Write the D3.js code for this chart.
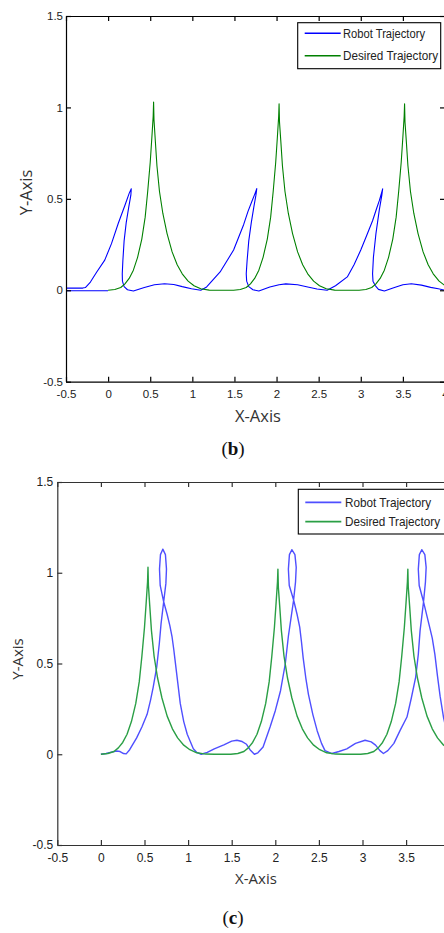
<!DOCTYPE html>
<html>
<head>
<meta charset="utf-8">
<script src="https://cdn.jsdelivr.net/npm/d3@7"></script>
<style>
  html, body { margin: 0; padding: 0; background: #fff; }
  svg { display: block; }
</style>
</head>
<body>
<svg id="chart" width="444" height="933"></svg>
<script>
// tick values shared by both panels
const xTicks = [-0.5, 0, 0.5, 1, 1.5, 2, 2.5, 3, 3.5, 4];
const yTicks = [-0.5, 0, 0.5, 1, 1.5];
const seriesNames = ['Robot Trajectory', 'Desired Trajectory'];
const panelLabels = ['b', 'c'];

// desired trajectory (same in both panels), [x, y]
const desiredPath = [
    [0.00, 0.000], [0.08, 0.004], [0.15, 0.015], [0.20, 0.035], [0.25, 0.065], [0.30, 0.11],
    [0.35, 0.18], [0.40, 0.28], [0.44, 0.40], [0.47, 0.54], [0.50, 0.70], [0.52, 0.84],
    [0.535, 0.95], [0.54, 1.03], [0.545, 0.93], [0.56, 0.82], [0.58, 0.68], [0.61, 0.54],
    [0.65, 0.42], [0.70, 0.31], [0.76, 0.21], [0.82, 0.14], [0.88, 0.09], [0.95, 0.05],
    [1.02, 0.025], [1.10, 0.008], [1.20, 0.001], [1.30, 0.000],
    [1.49, 0.000], [1.57, 0.004], [1.64, 0.015], [1.69, 0.035], [1.74, 0.065], [1.79, 0.11],
    [1.84, 0.18], [1.89, 0.28], [1.93, 0.40], [1.96, 0.54], [1.99, 0.70], [2.01, 0.84],
    [2.025, 0.95], [2.03, 1.02], [2.035, 0.92], [2.05, 0.82], [2.07, 0.68], [2.10, 0.54],
    [2.14, 0.42], [2.19, 0.31], [2.25, 0.21], [2.31, 0.14], [2.37, 0.09], [2.44, 0.05],
    [2.51, 0.025], [2.59, 0.008], [2.69, 0.001], [2.79, 0.000],
    [2.98, 0.000], [3.06, 0.004], [3.13, 0.015], [3.18, 0.035], [3.23, 0.065], [3.28, 0.11],
    [3.33, 0.18], [3.38, 0.28], [3.42, 0.40], [3.45, 0.54], [3.48, 0.70], [3.50, 0.84],
    [3.515, 0.95], [3.52, 1.02], [3.525, 0.92], [3.54, 0.82], [3.56, 0.68], [3.59, 0.54],
    [3.63, 0.42], [3.68, 0.31], [3.74, 0.21], [3.80, 0.14], [3.86, 0.09], [3.93, 0.05],
    [4.00, 0.025], [4.08, 0.008], [4.18, 0.001]
];

// robot trajectory, panel (b)
const robotPathB = [
    [0.00, -0.003], [-0.50, -0.003], [-0.50, 0.012], [-0.30, 0.012], [-0.27, 0.015],
    [-0.21, 0.045], [-0.135, 0.10], [-0.04, 0.165], [0.04, 0.255], [0.12, 0.365],
    [0.20, 0.465], [0.25, 0.53], [0.275, 0.555],
    [0.27, 0.52], [0.245, 0.455], [0.215, 0.37], [0.19, 0.27], [0.175, 0.16], [0.168, 0.09],
    [0.17, 0.05], [0.19, 0.02], [0.23, 0.003], [0.30, -0.004], [0.43, 0.015], [0.55, 0.03],
    [0.67, 0.036], [0.78, 0.032], [0.88, 0.02], [0.99, 0.008], [1.10, 0.000],
    [1.17, 0.018], [1.25, 0.06], [1.33, 0.10], [1.41, 0.16], [1.49, 0.22], [1.55, 0.29],
    [1.61, 0.36], [1.66, 0.43], [1.71, 0.49], [1.745, 0.53], [1.765, 0.556],
    [1.755, 0.52], [1.73, 0.455], [1.70, 0.37], [1.67, 0.27], [1.65, 0.16], [1.64, 0.09],
    [1.645, 0.05], [1.67, 0.02], [1.72, 0.003], [1.79, -0.004], [1.92, 0.018], [2.03, 0.03],
    [2.11, 0.035], [2.25, 0.03], [2.37, 0.018], [2.48, 0.007], [2.60, 0.000],
    [2.70, 0.025], [2.84, 0.073], [2.92, 0.14], [3.00, 0.22], [3.07, 0.30], [3.14, 0.38],
    [3.19, 0.45], [3.22, 0.49], [3.245, 0.53], [3.26, 0.555],
    [3.25, 0.52], [3.22, 0.44], [3.18, 0.31], [3.15, 0.18], [3.14, 0.09], [3.145, 0.05],
    [3.17, 0.027], [3.21, 0.005], [3.28, -0.004], [3.40, 0.015], [3.50, 0.03], [3.60, 0.036],
    [3.72, 0.028], [3.83, 0.016], [3.92, 0.008], [4.00, 0.000], [4.10, 0.000]
];

// robot trajectory, panel (c)
const robotPathC = [
    [0.00, 0.000], [0.06, 0.004], [0.12, 0.012], [0.18, 0.018], [0.22, 0.015], [0.26, 0.004],
    [0.29, 0.002], [0.33, 0.025], [0.41, 0.09], [0.47, 0.15], [0.53, 0.22], [0.57, 0.30],
    [0.60, 0.37], [0.64, 0.48], [0.67, 0.61], [0.69, 0.72], [0.72, 0.84], [0.745, 0.94],
    [0.752, 1.02], [0.74, 1.10], [0.71, 1.13], [0.683, 1.10], [0.672, 1.02], [0.68, 0.93],
    [0.72, 0.84], [0.76, 0.77], [0.79, 0.71], [0.815, 0.65], [0.835, 0.58], [0.85, 0.52],
    [0.88, 0.40], [0.91, 0.28], [0.95, 0.18], [0.99, 0.11], [1.06, 0.03], [1.10, 0.01],
    [1.15, 0.000], [1.22, 0.01], [1.30, 0.03], [1.41, 0.052], [1.50, 0.072], [1.56, 0.077],
    [1.62, 0.07], [1.67, 0.055], [1.71, 0.025], [1.76, 0.000], [1.80, 0.008], [1.86, 0.04],
    [1.94, 0.15], [2.00, 0.24], [2.06, 0.35], [2.115, 0.50], [2.15, 0.65], [2.18, 0.75],
    [2.21, 0.85], [2.232, 0.95], [2.24, 1.03], [2.225, 1.10], [2.19, 1.127], [2.162, 1.10],
    [2.15, 1.02], [2.16, 0.93], [2.21, 0.85], [2.25, 0.77], [2.28, 0.70], [2.30, 0.62],
    [2.32, 0.53], [2.35, 0.42], [2.38, 0.33], [2.43, 0.22], [2.48, 0.13], [2.53, 0.06],
    [2.57, 0.02], [2.65, 0.004], [2.73, 0.015], [2.82, 0.03], [2.92, 0.06], [3.03, 0.077],
    [3.10, 0.068], [3.15, 0.05], [3.20, 0.02], [3.24, 0.004], [3.29, 0.02], [3.36, 0.06],
    [3.43, 0.13], [3.51, 0.205], [3.56, 0.31], [3.61, 0.425], [3.64, 0.55], [3.66, 0.68],
    [3.68, 0.76], [3.70, 0.84], [3.722, 0.95], [3.73, 1.03], [3.715, 1.10], [3.68, 1.127],
    [3.652, 1.10], [3.64, 1.02], [3.65, 0.93], [3.70, 0.84], [3.74, 0.76], [3.77, 0.70],
    [3.80, 0.64], [3.83, 0.55], [3.86, 0.43], [3.89, 0.32], [3.93, 0.20], [3.98, 0.10],
    [4.05, 0.03], [4.12, 0.005]
];

const svg = d3.select('#chart');
svg.append('rect').attr('width', 444).attr('height', 933).attr('fill', '#fff');

const panels = [
    {
        id: 'b', robot: robotPathB,
        box: { left: 66, right: 445, top: 16, bottom: 381.7 },
        colors: ['#0000ff', '#008000'], lineWidth: 1.1, axisColor: '#000',
        tickFont: 11.5, yPad: 3, xPad: 8,
        legend: { x: 297.7, y: 22.7, w: 143, h: 46, row1: 33.3, row2: 55.7, textX: 343, font: 12.5, len: [82, 95] },
        yTitle: { x: 31.5, y: 192.5, size: 16.5 },
        xTitle: { x: 258, y: 421.5, size: 16.5 },
        caption: { x: 233, y: 455 }
    },
    {
        id: 'c', robot: robotPathC,
        box: { left: 57.3, right: 449.7, top: 482, bottom: 845 },
        colors: ['#4f4fff', '#2a9f45'], lineWidth: 1.4, axisColor: '#333',
        tickFont: 12, yPad: 4, xPad: 8,
        legend: { x: 298.3, y: 489.3, w: 150, h: 44.7, row1: 502.3, row2: 521.7, textX: 345, font: 13, len: [86, 95] },
        yTitle: { x: 23, y: 659, size: 15 },
        xTitle: { x: 256, y: 884, size: 15 },
        caption: { x: 233, y: 924 }
    }
];

function drawPanel(p) {
    const b = p.box;
    const x = d3.scaleLinear().domain([-0.5, 4]).range([b.left, b.right]);
    const y = d3.scaleLinear().domain([-0.5, 1.5]).range([b.bottom, b.top]);
    const g = svg.append('g').attr('class', 'panel-' + p.id);

    const clipId = 'clip-' + p.id;
    g.append('clipPath').attr('id', clipId)
        .append('rect')
        .attr('x', b.left).attr('y', b.top)
        .attr('width', b.right - b.left).attr('height', b.bottom - b.top);

    const line = d3.line()
        .x(d => x(d[0]))
        .y(d => y(d[1]));

    const plot = g.append('g').attr('clip-path', `url(#${clipId})`);
    plot.append('path')
        .datum(p.robot)
        .attr('d', line)
        .attr('fill', 'none')
        .attr('stroke', p.colors[0])
        .attr('stroke-width', p.lineWidth)
        .attr('stroke-linejoin', 'round');
    plot.append('path')
        .datum(desiredPath)
        .attr('d', line)
        .attr('fill', 'none')
        .attr('stroke', p.colors[1])
        .attr('stroke-width', p.lineWidth)
        .attr('stroke-linejoin', 'round');

    const fmt = d => String(d);
    const axes = [
        { ax: d3.axisBottom(x).tickValues(xTicks).tickFormat(fmt).tickPadding(p.xPad), t: `translate(0,${b.bottom})`, labels: true },
        { ax: d3.axisLeft(y).tickValues(yTicks).tickFormat(fmt).tickPadding(p.yPad), t: `translate(${b.left},0)`, labels: true },
        { ax: d3.axisTop(x).tickValues(xTicks).tickFormat(''), t: `translate(0,${b.top})`, labels: false },
        { ax: d3.axisRight(y).tickValues(yTicks).tickFormat(''), t: `translate(${b.right},0)`, labels: false }
    ];
    axes.forEach(a => {
        const ag = g.append('g')
            .attr('transform', a.t)
            .call(a.ax.tickSizeInner(-5).tickSizeOuter(0));
        ag.select('.domain').attr('stroke', p.axisColor).attr('stroke-width', 1.2);
        ag.selectAll('.tick line').attr('stroke', p.axisColor).attr('stroke-width', 1.2);
        ag.selectAll('.tick text')
            .attr('fill', '#222')
            .style('font-family', '"Liberation Sans", Arial, sans-serif')
            .style('font-size', p.tickFont + 'px');
    });

    // legend
    const L = p.legend;
    const lg = g.append('g');
    lg.append('rect')
        .attr('x', L.x).attr('y', L.y).attr('width', L.w).attr('height', L.h)
        .attr('fill', '#fff').attr('stroke', '#000').attr('stroke-width', 1.1);
    [L.row1, L.row2].forEach((ry, i) => {
        lg.append('line')
            .attr('x1', L.x + 7).attr('x2', L.x + 43)
            .attr('y1', ry).attr('y2', ry)
            .attr('stroke', p.colors[i]).attr('stroke-width', p.lineWidth + 0.3);
        lg.append('text')
            .attr('x', L.textX).attr('y', ry + 4.5)
            .attr('textLength', L.len[i])
            .attr('lengthAdjust', 'spacingAndGlyphs')
            .attr('fill', '#222')
            .style('font-family', '"Liberation Sans", Arial, sans-serif')
            .style('font-size', L.font + 'px')
            .text(seriesNames[i]);
    });

    // axis titles
    g.append('text')
        .attr('transform', `translate(${p.yTitle.x},${p.yTitle.y}) rotate(-90)`)
        .attr('text-anchor', 'middle')
        .attr('fill', '#333')
        .style('font-family', '"Open Sans", "Liberation Sans", sans-serif')
        .style('font-size', p.yTitle.size + 'px')
        .text('Y-Axis');
    g.append('text')
        .attr('x', p.xTitle.x).attr('y', p.xTitle.y)
        .attr('text-anchor', 'middle')
        .attr('fill', '#333')
        .style('font-family', '"Open Sans", "Liberation Sans", sans-serif')
        .style('font-size', p.xTitle.size + 'px')
        .text('X-Axis');

    // caption like (b)
    const cap = g.append('text')
        .attr('x', p.caption.x).attr('y', p.caption.y)
        .attr('text-anchor', 'middle')
        .attr('fill', '#111')
        .style('font-family', '"Liberation Serif", "DejaVu Serif", serif')
        .style('font-size', '19px');
    cap.append('tspan').text('(');
    cap.append('tspan').style('font-weight', 'bold').text(p.id);
    cap.append('tspan').text(')');
}

panels.forEach(drawPanel);
</script>
</body>
</html>
